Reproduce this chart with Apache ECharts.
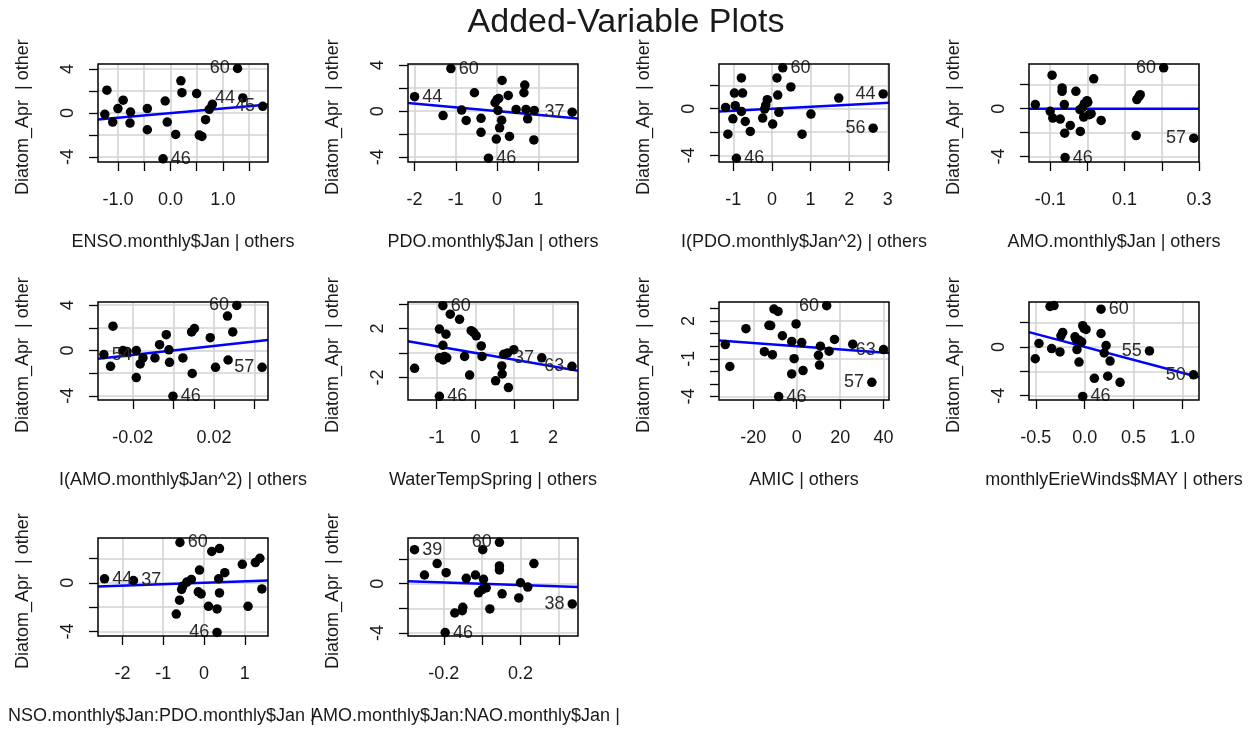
<!DOCTYPE html>
<html><head><meta charset="utf-8">
<script src="https://cdn.jsdelivr.net/npm/echarts@6/dist/echarts.min.js"></script>
<style>html,body{margin:0;padding:0;background:#fff}#c{width:1252px;height:730px}</style>
</head><body><div id="c"></div>
<script>
// ---------------- data ----------------
const mainTitle = 'Added-Variable Plots';
const yTitle = 'Diatom_Apr  | other';
const xTitles = ['ENSO.monthly$Jan | others', 'PDO.monthly$Jan | others', 'I(PDO.monthly$Jan^2) | others',
  'AMO.monthly$Jan | others', 'I(AMO.monthly$Jan^2) | others', 'WaterTempSpring | others', 'AMIC | others',
  'monthlyErieWinds$MAY | others', 'NSO.monthly$Jan:PDO.monthly$Jan |', 'AMO.monthly$Jan:NAO.monthly$Jan |'];

const x1 = [-1.25,-1.21,-1.10,-1.00,-0.90,-0.76,-0.77,-0.44,-0.44,-0.14,-0.10,-0.06,0.10,0.20,0.22,0.50,0.55,0.60,0.67,0.74,0.80,1.28,1.38,1.76];
const y1 = [-0.12,2.07,-0.82,0.40,1.16,0.09,-0.91,0.40,-1.52,-4.16,1.09,-0.82,-1.95,2.92,1.85,1.76,-2.00,-2.13,-0.61,0.33,0.79,4.04,1.37,0.61];
const labIdx1 = [9,21,22,23], labTxt1 = ['46','60','44','45'];

const x2 = [-2.00,-1.31,-1.12,-0.86,-0.75,-0.55,-0.39,-0.39,-0.21,-0.02,-0.05,0.00,0.04,0.02,0.06,0.11,0.12,0.27,0.30,0.46,0.65,0.67,0.70,0.74,0.89,0.90,1.82];
const y2 = [1.26,-0.38,3.70,0.09,-0.81,1.60,-0.62,-1.84,-4.09,-2.43,0.73,1.02,1.10,0.06,-1.45,-0.78,2.67,1.37,-2.20,0.15,1.60,2.27,0.15,-0.67,-2.50,0.06,-0.09];
const labIdx2 = [0,2,8,26], labTxt2 = ['44','60','46','37'];

const x3 = [-1.20,-1.14,-1.01,-0.97,-0.95,-0.92,-0.79,-0.76,-0.79,-0.69,-0.56,-0.24,-0.19,-0.16,-0.12,0.02,0.13,0.15,0.18,0.28,0.49,0.78,1.01,1.73,2.62,2.88];
const y3 = [0.11,-2.17,-0.86,1.34,0.26,-4.23,2.63,1.34,-0.23,-1.09,-1.94,-0.80,-0.03,0.31,0.77,-1.31,2.63,1.17,-0.31,3.49,1.86,-2.17,-0.46,0.91,-1.66,1.26];
const labIdx3 = [5,19,24,25], labTxt3 = ['46','60','56','44'];

const x4 = [-0.140,-0.100,-0.095,-0.093,-0.073,-0.068,-0.068,-0.062,-0.061,-0.060,-0.046,-0.031,-0.020,-0.019,-0.013,-0.010,-0.008,-0.001,0.001,0.005,0.010,0.017,0.037,0.131,0.133,0.139,0.142,0.205,0.286];
const y4 = [0.34,-0.22,2.80,-0.78,-0.87,1.73,1.45,0.34,-2.04,-4.08,-1.40,1.45,-0.08,-1.90,0.11,-0.70,0.42,0.67,0.53,-0.50,-0.42,2.49,-0.98,-2.24,0.76,1.03,1.17,3.41,-2.46];
const labIdx4 = [9,27,28], labTxt4 = ['46','60','57'];

const x5 = [-0.0343,-0.0310,-0.0298,-0.0249,-0.0229,-0.0183,-0.0183,-0.0164,-0.0150,-0.0091,-0.0068,-0.0035,-0.0022,-0.0019,-0.0002,0.0047,0.0090,0.0093,0.0104,0.0182,0.0208,0.0267,0.0270,0.0293,0.0313,0.0438];
const y5 = [-0.36,-1.40,2.15,0.00,-0.09,0.00,-2.39,-1.19,-0.66,-0.66,0.51,1.40,0.06,-1.04,-4.03,-0.66,1.64,-2.03,1.94,1.13,-1.49,3.04,-0.84,1.64,3.97,-1.49];
const labIdx5 = [0,14,24,25], labTxt5 = ['54','46','60','57'];

const x6 = [-1.57,-0.93,-0.93,-0.93,-0.84,-0.84,-0.83,-0.80,-0.76,-0.74,-0.65,-0.41,-0.28,-0.15,-0.11,-0.05,0.02,0.15,0.17,0.52,0.68,0.69,0.73,0.83,0.85,0.99,1.71,2.49];
const y6 = [-1.26,1.94,-0.40,-3.54,3.85,0.62,-0.57,-0.29,1.53,-0.40,3.16,2.74,-0.29,-1.81,1.81,1.67,1.39,0.57,-0.29,-2.28,-1.06,-1.72,-0.12,0.00,-2.83,0.26,-0.40,-1.09];
const labIdx6 = [3,4,26,27], labTxt6 = ['46','60','37','63'];

const x7 = [-32.9,-30.8,-23.4,-14.9,-12.8,-12.0,-11.2,-10.5,-8.6,-8.3,-6.6,-2.3,-2.3,-1.2,-0.3,2.3,2.9,10.0,10.5,10.9,13.8,14.9,17.4,25.8,34.6,40.0];
const y7 = [0.13,-1.61,1.39,-0.43,1.66,1.64,-0.67,2.95,2.76,-4.00,0.83,0.38,-2.20,-0.99,1.77,0.29,-1.93,-0.72,-1.50,0.00,3.22,-0.40,0.54,0.16,-2.87,-0.27];
const labIdx7 = [9,20,24,25], labTxt7 = ['46','60','57','63'];

const x8 = [-0.506,-0.468,-0.355,-0.314,-0.338,-0.253,-0.243,-0.225,-0.099,-0.089,-0.079,-0.058,-0.058,-0.031,-0.020,-0.007,0.014,-0.020,0.099,0.167,0.167,0.219,0.200,0.236,0.260,0.362,0.663,1.114];
const y8 = [-0.97,0.28,3.31,3.39,-0.14,-0.41,0.91,1.19,0.83,0.63,-0.22,-1.24,0.55,0.41,1.74,1.52,1.43,-4.06,-2.57,1.10,3.09,0.11,-0.50,-2.40,-1.16,-2.90,-0.33,-2.29];
const labIdx8 = [17,20,26,27], labTxt8 = ['46','60','55','50'];

const x9 = [-2.44,-1.73,-0.68,-0.60,-0.59,-0.55,-0.52,-0.42,-0.31,-0.14,-0.11,-0.07,0.11,0.19,0.32,0.32,0.36,0.38,0.38,0.51,0.94,1.08,1.26,1.37,1.42];
const y9 = [0.33,0.19,-2.57,-1.43,3.31,-0.55,-0.28,0.06,0.28,-0.74,1.05,-0.91,-1.93,2.57,-2.15,-4.08,0.33,2.81,-0.83,0.83,1.52,-1.93,1.66,2.01,-0.50];
const labIdx9 = [0,1,4,15], labTxt9 = ['44','37','60','46'];

const x10 = [-0.353,-0.301,-0.235,-0.188,-0.193,-0.143,-0.104,-0.101,-0.083,-0.035,-0.019,0.000,0.003,0.007,0.021,0.040,0.090,0.090,0.090,0.104,0.191,0.200,0.238,0.270,0.470];
const y10 = [2.77,0.71,1.64,0.90,-3.97,-2.38,-2.19,-1.92,0.44,0.71,-0.74,-0.47,2.77,0.36,-0.33,-2.05,3.37,1.45,1.12,-0.82,-1.15,0.08,-0.27,1.64,-1.64];
const labIdx10 = [0,4,16,24], labTxt10 = ['39','46','60','38'];

// fitted slopes of the added-variable lines (through the origin)
const slopes = [0.42,-0.33,0.17,0,19.7,-0.55,-0.0127,-2.12,0.12,-0.53];

// axis limits and ticks
const xLim = [[-1.38,1.86],[-2.16,1.96],[-1.37,3.03],[-0.157,0.3],[-0.0372,0.0467],[-1.74,2.645],[-35.8,42.5],[-0.57,1.17],[-2.6,1.57],[-0.387,0.5]];
const yLim = [[-4.45,4.45],[-4.42,4.1],[-4.55,3.82],[-4.45,3.73],[-4.37,4.28],[-3.84,4.15],[-4.27,3.51],[-4.35,3.68],[-4.37,3.68],[-4.25,3.72]];
const xTicks = [[-1,-0.5,0,0.5,1,1.5],[-2,-1,0,1],[-1,0,1,2,3],[-0.1,0,0.1,0.2,0.3],[-0.02,0,0.02,0.04],[-1,0,1,2],[-20,0,20,40],[-0.5,0,0.5,1],[-2,-1,0,1],[-0.2,0,0.2,0.4]];
const xTickLabels = [[-1,0,1],[-2,-1,0,1],[-1,0,1,2,3],[-0.1,0.1,0.3],[-0.02,0.02],[-1,0,1,2],[-20,0,20,40],[-0.5,0,0.5,1],[-2,-1,0,1],[-0.2,0.2]];
const xDigits = [1,0,0,1,2,0,0,1,0,1];
const yTicks = [[-4,-2,0,2,4],[-4,-2,0,2,4],[-4,-2,0,2],[-4,-2,0,2],[-4,-2,0,2,4],[-2,0,2,4],[-4,-3,-2,-1,0,1,2,3],[-4,-2,0,2],[-4,-2,0,2],[-4,-2,0,2]];
const yTickLabels = [[-4,0,4],[-4,0,4],[-4,0],[-4,0],[-4,0,4],[-2,2],[-4,-1,2],[-4,0],[-4,0],[-4,0]];
const yGridVals = [[-4,-2,0,2,4],[-4,-2,0,2,4],[-4,-2,0,2],[-4,-2,0,2],[-4,-2,0,2,4],[-2,0,2,4],[-4,-1,2],[-4,-2,0,2],[-4,-2,0,2],[-4,-2,0,2]];

// ---------------- chart ----------------
const xs = [x1,x2,x3,x4,x5,x6,x7,x8,x9,x10];
const ys = [y1,y2,y3,y4,y5,y6,y7,y8,y9,y10];
const lis = [labIdx1,labIdx2,labIdx3,labIdx4,labIdx5,labIdx6,labIdx7,labIdx8,labIdx9,labIdx10];
const lts = [labTxt1,labTxt2,labTxt3,labTxt4,labTxt5,labTxt6,labTxt7,labTxt8,labTxt9,labTxt10];

const FONT = '"Liberation Sans", Arial, Helvetica, sans-serif';
const INK = '#1a1a1a';
const colLeft = [98, 408, 719, 1029], rowTop = [64, 302, 538], boxW = 170, boxH = 98;

const grids = [], xAxes = [], yAxes = [], series = [], graphics = [];
for (let i = 0; i < 10; i++) {
  const left = colLeft[i % 4], top = rowTop[Math.floor(i / 4)];
  grids.push({left: left, top: top, width: boxW, height: boxH, containLabel: false, show: false});
  const d = xDigits[i];
  xAxes.push({
    type: 'value', gridIndex: i, min: xLim[i][0], max: xLim[i][1],
    axisLine: {show: false, onZero: false},
    axisTick: {show: true, inside: false, length: 9, customValues: xTicks[i], lineStyle: {color: '#000', width: 1.3}},
    axisLabel: {show: true, customValues: xTickLabels[i], margin: 29, fontSize: 18, fontFamily: FONT, color: INK,
      formatter: v => Number(v).toFixed(d)},
    splitLine: {show: false}
  });
  yAxes.push({
    type: 'value', gridIndex: i, min: yLim[i][0], max: yLim[i][1],
    axisLine: {show: false, onZero: false},
    axisTick: {show: true, inside: false, length: 9, customValues: yTicks[i], lineStyle: {color: '#000', width: 1.3}},
    axisLabel: {show: true, customValues: yTickLabels[i], rotate: 90, margin: 21, fontSize: 18, fontFamily: FONT, color: INK,
      formatter: v => Number(v).toFixed(0)},
    splitLine: {show: false}
  });
  const xv = xs[i], yv = ys[i];
  const mid = (Math.min(...xv) + Math.max(...xv)) / 2;
  const pts = xv.map((x, j) => {
    const k = lis[i].indexOf(j);
    const item = {value: [x, yv[j]]};
    if (k >= 0) {
      item.name = lts[i][k];
      item.label = {show: true, position: x > mid ? 'left' : 'right'};
    }
    return item;
  });
  const s = slopes[i];
  series.push({
    type: 'line', xAxisIndex: i, yAxisIndex: i, silent: true, z: 2,
    data: [[xLim[i][0], s * xLim[i][0]], [xLim[i][1], s * xLim[i][1]]],
    symbol: 'none', showSymbol: false,
    lineStyle: {color: '#0000ff', width: 2.5},
    markLine: {
      silent: true, symbol: 'none', z: 1, animation: false,
      label: {show: false},
      emphasis: {disabled: true},
      lineStyle: {color: '#d3d3d3', width: 1.6, type: 'solid'},
      data: xTicks[i].map(v => ({xAxis: v})).concat(yGridVals[i].map(v => ({yAxis: v})))
    }
  });
  series.push({
    type: 'scatter', xAxisIndex: i, yAxisIndex: i, silent: true, z: 3,
    symbol: 'circle', symbolSize: 9.5,
    itemStyle: {color: '#000', opacity: 1},
    label: {show: false, formatter: '{b}', fontSize: 18, fontFamily: FONT, color: '#2a2a2a', distance: 3},
    data: pts
  });
  graphics.push({type: 'rect', z: 100, silent: true,
    shape: {x: left, y: top, width: boxW, height: boxH},
    style: {fill: 'transparent', stroke: '#000', lineWidth: 1.5}});
  // y-axis title
  graphics.push({type: 'text', z: 100, silent: true, x: left - 75, y: top + boxH + 33, rotation: Math.PI / 2,
    style: {text: yTitle, font: '18px ' + FONT, fill: INK, align: 'left', verticalAlign: 'middle',
      textAlign: 'left', textVerticalAlign: 'middle'}});
  // x-axis title
  let xt;
  if (i === 8) {
    xt = {x: 8, align: 'left'};
  } else if (i === 9) {
    xt = {x: 311, align: 'left'};
  } else {
    xt = {x: left + boxW / 2, align: 'center'};
  }
  graphics.push({type: 'text', z: 100, silent: true, x: xt.x, y: top + boxH + 80,
    style: {text: xTitles[i], font: '18px ' + FONT, fill: INK, align: xt.align, verticalAlign: 'middle',
      textAlign: xt.align, textVerticalAlign: 'middle'}});
}
graphics.push({type: 'text', z: 100, silent: true, x: 626, y: 23,
  style: {text: mainTitle, font: '34px ' + FONT, fill: INK, align: 'center', verticalAlign: 'middle',
    textAlign: 'center', textVerticalAlign: 'middle'}});

const chart = echarts.init(document.getElementById('c'), null, {renderer: 'canvas', width: 1252, height: 730});
chart.setOption({
  animation: false,
  backgroundColor: '#fff',
  grid: grids, xAxis: xAxes, yAxis: yAxes, series: series,
  graphic: {elements: graphics}
});
</script></body></html>
